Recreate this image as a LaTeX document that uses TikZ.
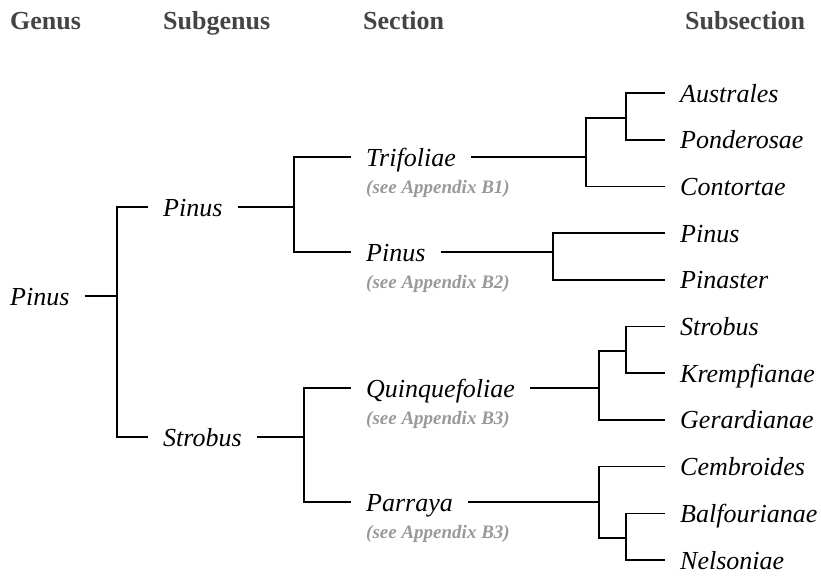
\documentclass[tikz,border=0pt]{standalone}
\usepackage{fontspec}
\setmainfont{Liberation Serif}
\usetikzlibrary{calc}
\definecolor{notegray}{HTML}{999999}
\definecolor{headgray}{HTML}{444444}
\begin{document}
\begin{tikzpicture}[x=1pt,y=-1pt,
  taxon/.style={font=\fontsize{26}{30}\selectfont\itshape, inner xsep=15pt, inner ysep=0pt, text height=18pt, text depth=0pt, anchor=west},
  note/.style={font=\fontsize{19}{22}\selectfont\bfseries\itshape, text=notegray, inner xsep=15pt, inner ysep=0pt, anchor=base west},
  header/.style={font=\fontsize{26}{30}\selectfont\bfseries, text=headgray, inner sep=0pt, anchor=base west},
  branch/.style={line width=1.6pt, draw=black}]
\useasboundingbox (0,0) rectangle (821,576);
% headers
\node[header] (hg) at (10,29) {Genus};
\node[header] (hsg) at (163,29) {Subgenus};
\node[header] (hsec) at (363,29) {Section};
\node[header] (hsub) at (685,29) {Subsection};
% genus and subgenera
\node[taxon] (g) at (-5,296) {Pinus};
\node[taxon] (sp) at (148,207) {Pinus};
\node[taxon] (ss) at (148,437) {Strobus};
% sections
\node[taxon] (t1) at (351,157) {Trifoliae};
\node[note] (t1n) at ($(t1.west)+(0,36)$) {(see Appendix B1)};
\node[taxon] (t2) at (351,252) {Pinus};
\node[note] (t2n) at ($(t2.west)+(0,36)$) {(see Appendix B2)};
\node[taxon] (t3) at (351,388) {Quinquefoliae};
\node[note] (t3n) at ($(t3.west)+(0,36)$) {(see Appendix B3)};
\node[taxon] (t4) at (351,502) {Parraya};
\node[note] (t4n) at ($(t4.west)+(0,36)$) {(see Appendix B3)};
% subsections
\node[taxon] (s1) at (665,93) {Australes};
\node[taxon] (s2) at (665,139.7) {Ponderosae};
\node[taxon] (s3) at (665,186.4) {Contortae};
\node[taxon] (s4) at (665,233.1) {Pinus};
\node[taxon] (s5) at (665,279.8) {Pinaster};
\node[taxon] (s6) at (665,326.5) {Strobus};
\node[taxon] (s7) at (665,373.2) {Krempfianae};
\node[taxon] (s8) at (665,419.9) {Gerardianae};
\node[taxon] (s9) at (665,466.6) {Cembroides};
\node[taxon] (s10) at (665,513.3) {Balfourianae};
\node[taxon] (s11) at (665,560) {Nelsoniae};
% junctions
\coordinate (j0) at (117,296);
\coordinate (j1) at (294,207);
\coordinate (j2) at (304,437);
\coordinate (j3) at (586,157);
\coordinate (j4) at (626,118);
\coordinate (j5) at (553,252);
\coordinate (j6) at (599,388);
\coordinate (j7) at (626,351);
\coordinate (j8) at (599,502);
\coordinate (j9) at (626,538);
% branches
\draw[branch] (g.east) -- (j0);
\draw[branch] (sp.west) -| (j0) |- (ss.west);
\draw[branch] (sp.east) -- (j1);
\draw[branch] (t1.west) -| (j1) |- (t2.west);
\draw[branch] (ss.east) -- (j2);
\draw[branch] (t3.west) -| (j2) |- (t4.west);
\draw[branch] (t1.east) -- (j3);
\draw[branch] (j4) -| (j3) |- (s3.west);
\draw[branch] (s1.west) -| (j4) |- (s2.west);
\draw[branch] (t2.east) -- (j5);
\draw[branch] (s4.west) -| (j5) |- (s5.west);
\draw[branch] (t3.east) -- (j6);
\draw[branch] (j7) -| (j6) |- (s8.west);
\draw[branch] (s6.west) -| (j7) |- (s7.west);
\draw[branch] (t4.east) -- (j8);
\draw[branch] (s9.west) -| (j8) |- (j9);
\draw[branch] (s10.west) -| (j9) |- (s11.west);
\end{tikzpicture}
\end{document}
